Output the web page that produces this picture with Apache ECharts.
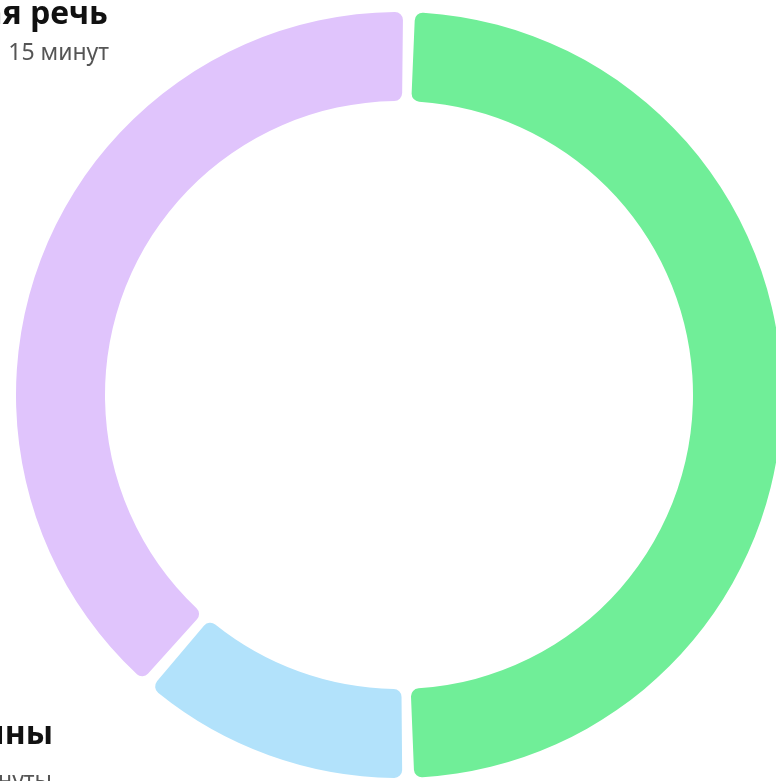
<!DOCTYPE html>
<html>
<head>
<meta charset="utf-8">
<script src="https://cdn.jsdelivr.net/npm/echarts@6/dist/echarts.min.js"></script>
<style>
html,body{margin:0;padding:0;background:#fff;}
#c{width:776px;height:781px;}
</style>
</head>
<body>
<div id="c"></div>
<script>
const categories = ['Иностранная речь', 'Машины', 'Прочее'];
const values = [49.2, 11.8, 39.0];
const colors = ['#70EE98', '#B2E2FB', '#E0C4FC'];
const topTitle = 'Иностранная речь';
const topSub = '15 минут';
const bottomTitle = 'Машины';
const bottomSub = '3 минуты';

const chart = echarts.init(document.getElementById('c'), null, {renderer: 'canvas'});
chart.setOption({
  backgroundColor: '#ffffff',
  animation: false,
  series: [{
    type: 'pie',
    center: [399, 395],
    radius: [294, 383],
    startAngle: 88.5,
    clockwise: true,
    padAngle: 1.8,
    avoidLabelOverlap: false,
    label: {show: false},
    labelLine: {show: false},
    emphasis: {disabled: true},
    itemStyle: {borderRadius: 8},
    data: categories.map((n, i) => ({name: n, value: values[i], itemStyle: {color: colors[i]}}))
  }],
  graphic: [
    {type: 'text', x: 108, y: 15, style: {text: topTitle, font: 'bold 32px "Noto Sans", sans-serif', fill: '#111', align: 'right', verticalAlign: 'middle'}},
    {type: 'text', x: 109, y: 53, style: {text: topSub, font: '23px "Noto Sans", sans-serif', fill: '#555', align: 'right', verticalAlign: 'middle'}},
    {type: 'text', x: 53, y: 735, style: {text: bottomTitle, font: 'bold 32px "Noto Sans", sans-serif', fill: '#111', align: 'right', verticalAlign: 'middle'}},
    {type: 'text', x: 52, y: 781, style: {text: bottomSub, font: '23px "Noto Sans", sans-serif', fill: '#555', align: 'right', verticalAlign: 'middle'}}
  ]
});
</script>
</body>
</html>
